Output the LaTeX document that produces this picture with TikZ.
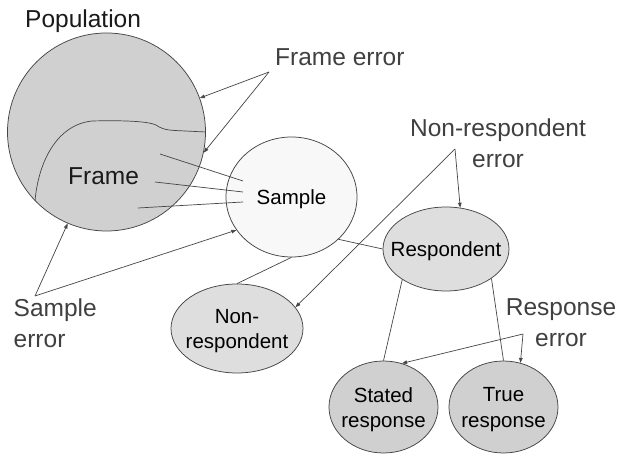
\documentclass[tikz,border=0pt]{standalone}
\usepackage{fontspec}
\setmainfont{Liberation Sans}
\usetikzlibrary{arrows.meta,shapes.geometric}
\definecolor{popfill}{HTML}{D0D0D0}
\definecolor{resfill}{HTML}{DEDEDE}
\definecolor{samfill}{HTML}{F8F8F8}
\definecolor{edgegray}{HTML}{454545}
\definecolor{labelgray}{HTML}{404040}
\definecolor{titlegray}{HTML}{1A1A1A}

\begin{document}
\begin{tikzpicture}[x=1pt,y=-1pt,
  blob/.style={ellipse, draw=edgegray, line width=0.75pt, inner sep=0pt},
  ntext/.style={font=\fontsize{20.5}{25.5}\selectfont, align=center,
                inner sep=0pt, text=black, yshift=-2.5pt},
  lab/.style={font=\fontsize{24.5}{31}\selectfont, inner sep=0pt, text=labelgray},
  con/.style={draw=edgegray, line width=0.7pt},
  arr/.style={con, -{Triangle[length=5pt,width=3.6pt]}}]

  % canvas
  \fill[white] (0,0) rectangle (625,454);
  \useasboundingbox (0,0) rectangle (625,454);

  % population and its frame
  \node[circle, draw=edgegray, line width=0.75pt, fill=popfill, inner sep=0pt,
        minimum size=198pt] (pop) at (106.5,132) {};
  \draw[con] (pop.224.8) .. controls (38,165) and (55,125) .. (92,121)
        .. controls (130,120) and (150,122) .. (156,125)
        .. controls (160,128) and (165,130) .. (175,130.5) -- (pop.0);

  % sample and its branches
  \node[blob, fill=samfill, minimum width=131pt, minimum height=120pt,
        label={[ntext]center:Sample}] (sam) at (291.5,197) {};
  \node[blob, fill=resfill, minimum width=126pt, minimum height=84pt,
        label={[ntext]center:Respondent}] (res) at (446,249) {};
  \node[blob, fill=resfill, minimum width=132pt, minimum height=89pt,
        label={[ntext]center:{Non-\\respondent}}] (non) at (237,328.5) {};
  \node[blob, fill=popfill, minimum width=109pt, minimum height=92pt,
        label={[ntext]center:{Stated\\response}}] (sta) at (383.5,407) {};
  \node[blob, fill=popfill, minimum width=109pt, minimum height=92pt,
        label={[ntext]center:{True\\response}}] (tru) at (503.5,407) {};

  % free labels
  \node[lab, text=titlegray, anchor=base west] (poplab) at (25,28) {Population};
  \node[lab, text=titlegray, anchor=base west] (framelab) at (68,185) {Frame};
  \node[lab, anchor=base west] (frerr) at (275,66) {Frame error};
  \node[lab, align=center] (nrerr) at (498,143.5) {Non-respondent\\error};
  \node[lab, align=left, anchor=west] (samerr) at (13.5,323.5) {Sample\\error};
  \node[lab, align=center] (reserr) at (561,323) {Response\\error};

  % arrow sources and frame-to-sample points
  \coordinate (frA) at (269,72);
  \coordinate (saA) at (35,296);
  \coordinate (nrA) at (455,149);
  \coordinate (reA) at (523,334);
  \coordinate (f1) at (160,154);
  \coordinate (f2) at (155,182);
  \coordinate (f3) at (138,208);
  \coordinate (s1) at (243,181);
  \coordinate (s2) at (243,192);
  \coordinate (s3) at (243,202);

  % frame to sample
  \draw[con] (f1) -- (s1);
  \draw[con] (f2) -- (s2);
  \draw[con] (f3) -- (s3);

  % tree connectors
  \draw[con] (sam.-42.8) -- (res.180);
  \draw[con] (sam.-90) -- (non.90);
  \draw[con] (res.215.8) -- (sta.90);
  \draw[con] (res.-33.7) -- (tru.90);

  % error arrows
  \draw[arr] (frA) -- (pop.20);
  \draw[arr] (frA) -- (pop.-12);
  \draw[arr] (saA) -- (pop.247.7);
  \draw[arr] (saA) -- (sam.211);
  \draw[arr] (nrA) -- (res.71.6);
  \draw[arr] (nrA) -- (non.20.6);
  \draw[arr] (reA) -- (sta.67.6);
  \draw[arr] (reA) -- (tru.69.2);
\end{tikzpicture}
\end{document}
